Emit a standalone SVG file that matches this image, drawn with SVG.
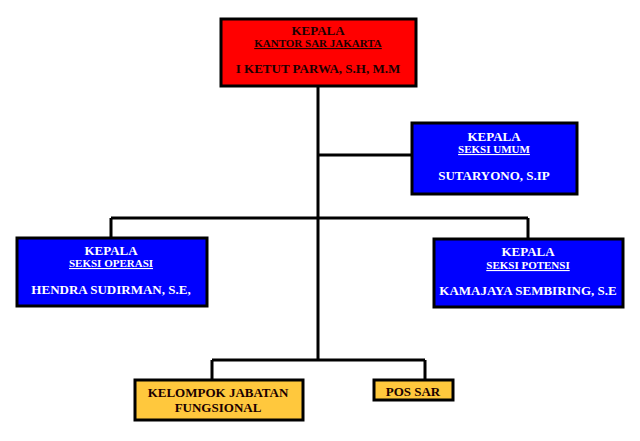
<svg xmlns="http://www.w3.org/2000/svg" width="640" height="441" viewBox="0 0 640 441">
<style>
.box{stroke:#000;stroke-width:3}
.red{fill:#FF0000}
.blue{fill:#0000FF}
.yel{fill:#FFC83D}
text{font-family:"Liberation Serif","Times New Roman",serif;font-weight:bold;text-anchor:middle}
.t{font-size:13px}
.s{font-size:11px;text-decoration:underline}
.w{fill:#fff}
.d{fill:#1a0000}
.c{stroke:#000;stroke-width:3;fill:none}
</style>
<rect width="640" height="441" fill="#fff"/>
<g id="connectors">
<path class="c" d="M318,86V360M318,155H412M111,218H528M111,218V238M528,218V239M212,360H425M212,360V380M425,360V380"/>
</g>
<g id="kepala-kantor">
<rect class="box red" x="221" y="19" width="195" height="67"/>
<text class="t d" x="318" y="35">KEPALA</text>
<text class="s d" x="318" y="47">KANTOR SAR JAKARTA</text>
<text class="t d" x="318" y="73">I KETUT PARWA, S.H, M.M</text>
</g>
<g id="seksi-umum">
<rect class="box blue" x="412" y="123" width="165" height="71"/>
<text class="t w" x="494" y="141">KEPALA</text>
<text class="s w" x="494" y="153">SEKSI UMUM</text>
<text class="t w" x="494" y="180">SUTARYONO, S.IP</text>
</g>
<g id="seksi-operasi">
<rect class="box blue" x="17" y="238" width="190" height="68"/>
<text class="t w" x="111" y="255">KEPALA</text>
<text class="s w" x="111" y="267">SEKSI OPERASI</text>
<text class="t w" x="111" y="294">HENDRA SUDIRMAN, S.E,</text>
</g>
<g id="seksi-potensi">
<rect class="box blue" x="434" y="239" width="189" height="68"/>
<text class="t w" x="528" y="256">KEPALA</text>
<text class="s w" x="528" y="269">SEKSI POTENSI</text>
<text class="t w" x="528" y="295">KAMAJAYA SEMBIRING, S.E</text>
</g>
<g id="kelompok-jabatan">
<rect class="box yel" x="135" y="380" width="168" height="40"/>
<text class="t d" x="218" y="397">KELOMPOK JABATAN</text>
<text class="t d" x="218" y="412">FUNGSIONAL</text>
</g>
<g id="pos-sar">
<rect class="box yel" x="374" y="380" width="79" height="20"/>
<text class="t d" x="413" y="396">POS SAR</text>
</g>
</svg>
